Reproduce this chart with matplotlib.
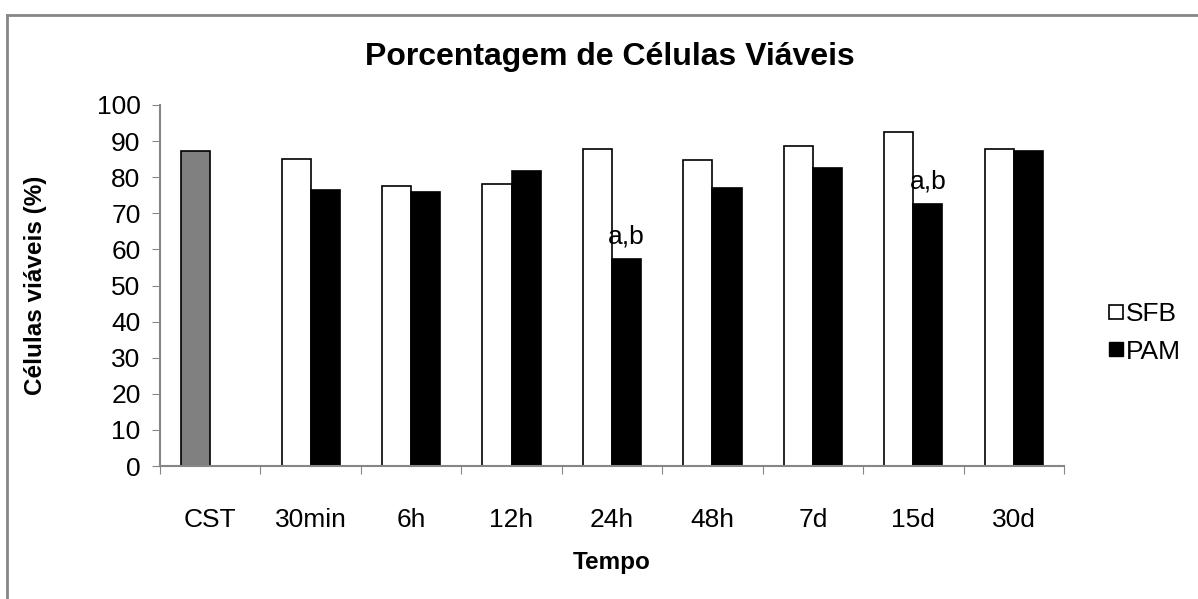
import matplotlib
matplotlib.use('Agg')
import matplotlib.pyplot as plt
import numpy as np
from matplotlib.lines import Line2D

plt.rcParams['font.family'] = ['Liberation Sans', 'DejaVu Sans']

categories = ['CST', '30min', '6h', '12h', '24h', '48h', '7d', '15d', '30d']
sfb = [87.3, 85.0, 77.5, 78.0, 87.7, 84.8, 88.6, 92.5, 87.7]
pam = [np.nan, 76.5, 75.8, 81.7, 57.3, 77.0, 82.5, 72.5, 87.3]
sig_labels = ['', '', '', '', 'a,b', '', '', 'a,b', '']

AXIS_GREY = '#868686'

fig = plt.figure(figsize=(11.98, 5.99), dpi=100)
ax = fig.add_axes([160 / 1198, 1 - 466 / 599, 904 / 1198, 361 / 599])

x = np.arange(len(categories))
w = 0.29
sfb_colors = ['#808080'] + ['white'] * (len(categories) - 1)
ax.bar(x - w / 2, sfb, w, color=sfb_colors, edgecolor='black', linewidth=1.2)
ax.bar(x + w / 2, pam, w, color='black', edgecolor='black', linewidth=1.2)

# significance marks above PAM bars
for i, lab in enumerate(sig_labels):
    if lab:
        ax.text(x[i] + w / 2, pam[i] + 3, lab, ha='center', va='bottom',
                fontsize=19)

ax.set_xlim(-0.5, len(categories) - 0.5)
ax.set_ylim(0, 100)
ax.set_yticks(range(0, 101, 10))
ax.tick_params(axis='y', labelsize=19, length=6, color=AXIS_GREY, pad=8)

# boundary ticks, labels centered between them
ax.set_xticks(np.arange(len(categories) + 1) - 0.5)
ax.set_xticklabels([])
ax.tick_params(axis='x', which='major', length=6, color=AXIS_GREY)
ax.set_xticks(x, minor=True)
ax.set_xticklabels(categories, minor=True, fontsize=19)
ax.tick_params(axis='x', which='minor', length=0, pad=30)

for side in ['top', 'right']:
    ax.spines[side].set_visible(False)
for side in ['left', 'bottom']:
    ax.spines[side].set_color(AXIS_GREY)
    ax.spines[side].set_linewidth(1.5)

ax.set_xlabel('Tempo', fontsize=17.5, fontweight='bold', labelpad=14)
ax.set_ylabel('Células viáveis (%)', fontsize=17.5, fontweight='bold', labelpad=36)
fig.text(610 / 1198, 1 - 57 / 599, 'Porcentagem de Células Viáveis',
         ha='center', va='center', fontsize=23, fontweight='bold')

handles = [
    Line2D([], [], marker='s', linestyle='none', markersize=10.5,
           markerfacecolor='white', markeredgecolor='black', markeredgewidth=1.2),
    Line2D([], [], marker='s', linestyle='none', markersize=10.5,
           markerfacecolor='black', markeredgecolor='black'),
]
fig.legend(handles, ['SFB', 'PAM'], loc='center left',
           bbox_to_anchor=(1084 / 1198, 1 - 333 / 599), frameon=False,
           fontsize=19, handlelength=0.6, handletextpad=0.1, labelspacing=0.5)

# chart-area frame
fig.add_artist(Line2D([7 / 1198, 1.0], [1 - 15 / 599, 1 - 15 / 599],
                      transform=fig.transFigure, color=AXIS_GREY, linewidth=2))
fig.add_artist(Line2D([7 / 1198, 7 / 1198], [0.0, 1 - 15 / 599],
                      transform=fig.transFigure, color=AXIS_GREY, linewidth=2))

plt.savefig('out.png', dpi=100)
plt.close()
